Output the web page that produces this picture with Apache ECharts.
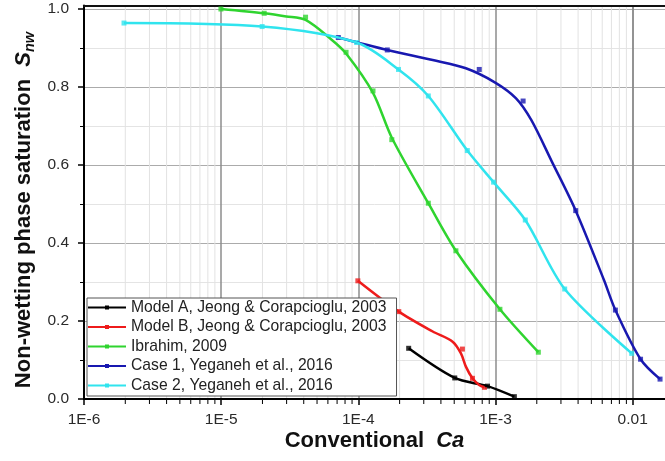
<!DOCTYPE html>
<html>
<head>
<meta charset="utf-8">
<script src="https://cdn.jsdelivr.net/npm/echarts@6/dist/echarts.min.js"></script>
<style>
  html, body { margin: 0; padding: 0; background: #fff; }
  #chart { width: 665px; height: 461px; }
</style>
</head>
<body>
<div id="chart"></div>
<script>
// Capillary number range and tick labels
const xMin = 1e-6;
const xMax = 0.0175;
const xTickLabels = ['1E-6', '1E-5', '1E-4', '1E-3', '0.01'];
const minorSteps = [2, 3, 4, 5, 6, 7, 8, 9];

// Model A, Jeong & Corapcioglu, 2003  [Ca, Snw]
const modelA = [[2.35e-4, 0.130], [5.1e-4, 0.054], [8.85e-4, 0.033], [1.39e-3, 0.006]];

// Model B, Jeong & Corapcioglu, 2003
const modelBPoints = [[1.0e-4, 0.303], [1.99e-4, 0.224], [5.8e-4, 0.128], [6.87e-4, 0.053], [8.4e-4, 0.030]];
const modelBCurve = [[1.0e-4, 0.303], [1.99e-4, 0.224], [3.52e-4, 0.173], [4.92e-4, 0.147], [5.66e-4, 0.117],
                     [6.15e-4, 0.083], [6.87e-4, 0.053], [7.69e-4, 0.036], [8.4e-4, 0.030]];

// Ibrahim, 2009
const ibrahimPoints = [[1.0e-5, 1.0], [2.07e-5, 0.989], [4.15e-5, 0.979], [8.2e-5, 0.889], [1.29e-4, 0.790],
                       [1.77e-4, 0.665], [3.27e-4, 0.502], [5.2e-4, 0.380], [1.09e-3, 0.230], [2.08e-3, 0.120]];
const ibrahimCurve = [[1.0e-5, 1.0], [2.07e-5, 0.989], [3.0e-5, 0.981], [4.15e-5, 0.972], [6.4e-5, 0.922],
                      [8.2e-5, 0.886], [1.29e-4, 0.785], [1.77e-4, 0.670], [3.27e-4, 0.502], [5.2e-4, 0.380],
                      [1.09e-3, 0.230], [2.08e-3, 0.120]];

// Case 1, Yeganeh et al., 2016
const case1Points = [[7.2e-5, 0.927], [1.64e-4, 0.895], [7.7e-4, 0.845], [1.61e-3, 0.764], [3.9e-3, 0.483],
                     [7.6e-3, 0.228], [1.16e-2, 0.102], [1.61e-2, 0.051]];
const case1Curve = [[7.2e-5, 0.927], [1.64e-4, 0.895], [3.52e-4, 0.869], [6.15e-4, 0.848], [1.0e-3, 0.812],
                    [1.43e-3, 0.771], [1.85e-3, 0.715], [2.6e-3, 0.610], [3.9e-3, 0.483], [6.27e-3, 0.305],
                    [7.6e-3, 0.228], [1.16e-2, 0.102], [1.61e-2, 0.051]];

// Case 2, Yeganeh et al., 2016
const case2 = [[1.96e-6, 0.964], [2.0e-5, 0.955], [9.8e-5, 0.914], [1.98e-4, 0.845], [3.27e-4, 0.777],
               [6.3e-4, 0.637], [9.8e-4, 0.556], [1.67e-3, 0.459], [3.24e-3, 0.282], [1.0e-2, 0.117]];

const groups = [
  { name: 'Model A, Jeong & Corapcioglu, 2003', color: '#000000', curve: modelA, points: modelA },
  { name: 'Model B, Jeong & Corapcioglu, 2003', color: '#ee1b1b', curve: modelBCurve, points: modelBPoints },
  { name: 'Ibrahim, 2009', color: '#2fd42f', curve: ibrahimCurve, points: ibrahimPoints },
  { name: 'Case 1, Yeganeh et al., 2016', color: '#1818b0', curve: case1Curve, points: case1Points },
  { name: 'Case 2, Yeganeh et al., 2016', color: '#30e4ee', curve: case2, points: case2 }
];

const FONT = '"Liberation Sans", Arial, sans-serif';

// Plot frame
const plotLeft = 84, plotBottom = 62, plotTop = 9, W = 665;
const plotWidth = W + 1 - plotLeft;
const decadePx = plotWidth / (Math.log10(xMax) - Math.log10(xMin));
const decoWidth = decadePx * (Math.log10(0.01) - Math.log10(xMin));

// Minor log positions 2..9 within each decade of the labelled range
const minorValues = [];
for (let e = Math.log10(xMin); e < -2; e++) {
  minorSteps.forEach(m => minorValues.push(m * Math.pow(10, e)));
}

const series = [];
// light minor grid lines plus short minor ticks under the axis line
series.push({
  type: 'custom', xAxisIndex: 1, yAxisIndex: 1, silent: true, z: 0, clip: false,
  data: minorValues.map(v => [v]),
  renderItem: (params, api) => {
    const v = api.value(0);
    const bottom = api.coord([v, 0]);
    const top = api.coord([v, 1]);
    return {
      type: 'group',
      children: [
        { type: 'line', shape: { x1: bottom[0], y1: bottom[1], x2: top[0], y2: top[1] },
          style: { stroke: '#e2e2e2', lineWidth: 1 } },
        { type: 'line', shape: { x1: bottom[0], y1: bottom[1] + 1, x2: bottom[0], y2: bottom[1] + 5 },
          style: { stroke: '#000', lineWidth: 1 } }
      ]
    };
  }
});

groups.forEach(g => {
  series.push({
    name: g.name, type: 'line', xAxisIndex: 0, yAxisIndex: 0,
    data: g.curve, smooth: 0.3, showSymbol: false,
    symbol: 'rect', symbolSize: 5, clip: false,
    itemStyle: { color: g.color }, lineStyle: { color: g.color, width: 2.5 }
  });
  series.push({
    name: g.name, type: 'scatter', xAxisIndex: 0, yAxisIndex: 0,
    data: g.points, symbol: 'rect', symbolSize: 5, clip: false,
    itemStyle: { color: g.color }
  });
});

const chart = echarts.init(document.getElementById('chart'), null, { renderer: 'canvas' });
chart.setOption({
  animation: false,
  backgroundColor: '#fff',
  grid: [
    { left: plotLeft, right: -1, top: plotTop, bottom: plotBottom },
    { left: plotLeft, width: decoWidth, top: plotTop - 3.5, bottom: plotBottom }
  ],
  xAxis: [
    {
      gridIndex: 0, type: 'log', min: xMin, max: xMax, position: 'bottom',
      axisLine: { show: true, lineStyle: { color: '#000', width: 2 } },
      axisTick: { show: false }, axisLabel: { show: false }, splitLine: { show: false },
      name: '{b|Conventional  }{i|Ca}', nameLocation: 'middle', nameGap: 31,
      nameTextStyle: {
        rich: {
          b: { fontFamily: FONT, fontSize: 22, fontWeight: 'bold', color: '#111' },
          i: { fontFamily: FONT, fontSize: 22, fontWeight: 'bold', fontStyle: 'italic', color: '#111' }
        }
      }
    },
    {
      gridIndex: 1, type: 'log', min: xMin, max: 0.01, position: 'bottom',
      axisLine: { show: true, lineStyle: { color: '#000', width: 2 } },
      axisTick: { show: true, length: 6, lineStyle: { color: '#000', width: 1.5 } },
      minorTick: { show: false },
      axisLabel: {
        show: true, margin: 13, fontFamily: FONT, fontSize: 15.5, color: '#2a2a2a',
        formatter: v => xTickLabels[Math.round(Math.log10(v) - Math.log10(xMin))] || ''
      },
      splitLine: { show: true, lineStyle: { color: '#8c8c8c', width: 1.5 } },
      minorSplitLine: { show: false }
    },
    {
      gridIndex: 0, type: 'log', min: xMin, max: xMax, position: 'top', offset: 3.5,
      axisLine: { show: true, lineStyle: { color: '#111', width: 2 } },
      axisTick: { show: false }, axisLabel: { show: false }, splitLine: { show: false }
    }
  ],
  yAxis: [
    {
      gridIndex: 0, type: 'value', min: 0, max: 1, interval: 0.2,
      axisLine: { show: true, lineStyle: { color: '#000', width: 2 } },
      axisTick: { show: true, length: 6, lineStyle: { color: '#000', width: 1.5 } },
      minorTick: { show: true, splitNumber: 2, length: 4, lineStyle: { color: '#000', width: 1 } },
      axisLabel: { margin: 15, fontFamily: FONT, fontSize: 15.5, color: '#2a2a2a', formatter: v => v.toFixed(1) },
      splitLine: { show: true, lineStyle: { color: '#ababab', width: 1 } },
      minorSplitLine: { show: true, lineStyle: { color: '#e4e4e4', width: 1 } }
    },
    {
      gridIndex: 1, type: 'value', min: 0, max: 1,
      axisLine: { show: true, lineStyle: { color: '#000', width: 2 } },
      axisTick: { show: false }, axisLabel: { show: false }, splitLine: { show: false }
    }
  ],
  legend: {
    orient: 'vertical', left: 87, top: 298,
    padding: [1.5, 10, 2.5, 0], itemGap: 3.5, itemWidth: 38, itemHeight: 5,
    backgroundColor: '#fff', borderColor: '#555', borderWidth: 1, borderRadius: 0,
    textStyle: { fontFamily: FONT, fontSize: 15.7, color: '#222', lineHeight: 16 },
    data: groups.map(g => g.name)
  },
  graphic: [{
    type: 'text', x: 24, y: 210, rotation: Math.PI / 2,
    style: {
      text: '{b|Non-wetting phase saturation  }{s|S}{sub|nw}',
      align: 'center', verticalAlign: 'middle',
      rich: {
        b: { fontFamily: FONT, fontSize: 22, fontWeight: 'bold', fill: '#111' },
        s: { fontFamily: FONT, fontSize: 22, fontWeight: 'bold', fontStyle: 'italic', fill: '#111' },
        sub: { fontFamily: FONT, fontSize: 14.5, fontWeight: 'bold', fontStyle: 'italic', fill: '#111',
               verticalAlign: 'bottom', padding: [12, 0, 0, 0] }
      }
    }
  }],
  series: series
});
</script>
</body>
</html>
